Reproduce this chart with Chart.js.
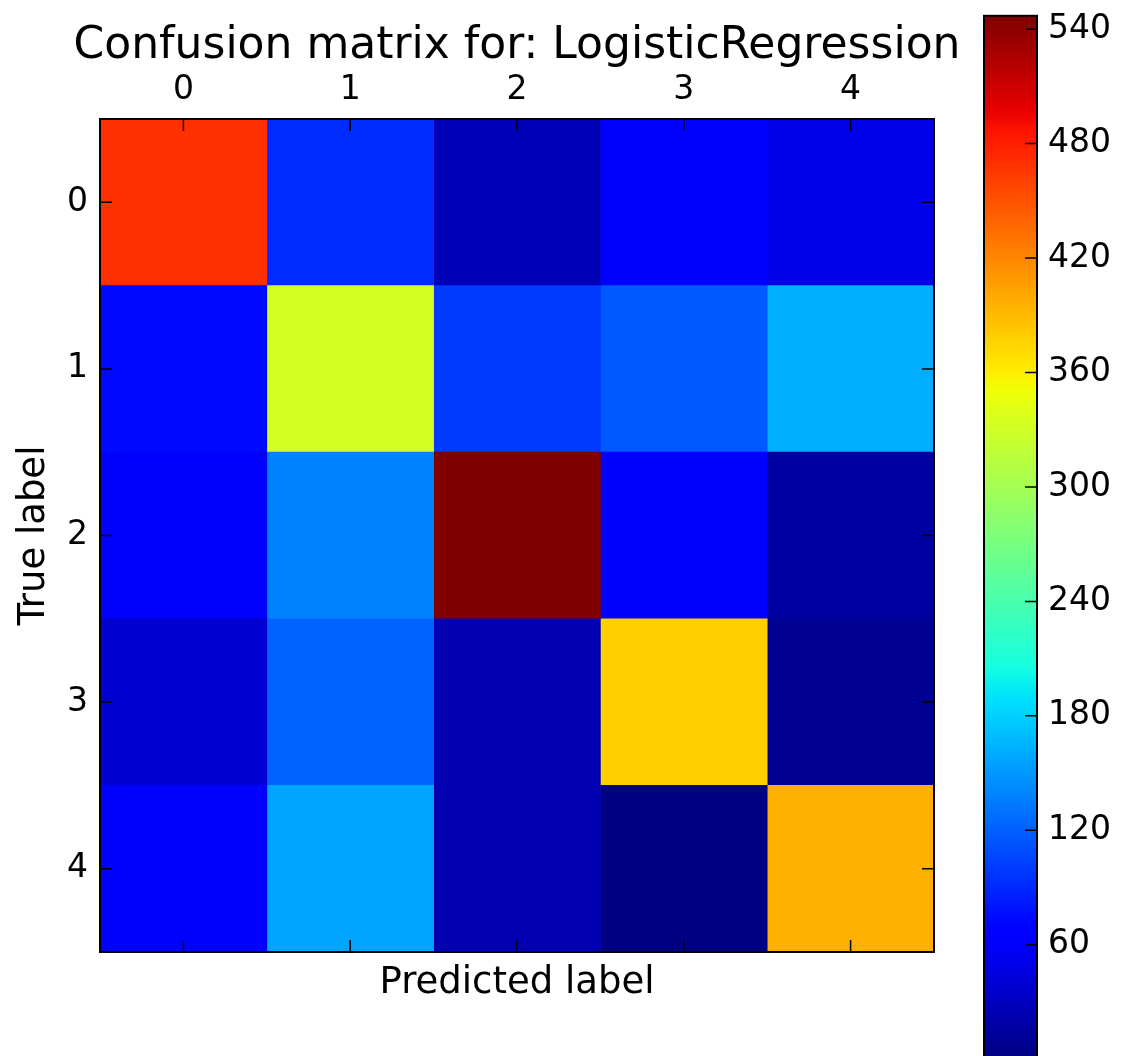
<!DOCTYPE html>
<html>
<head>
<meta charset="utf-8">
<title>Confusion matrix</title>
<script src="https://cdn.jsdelivr.net/npm/chart.js@4.4.1/dist/chart.umd.min.js"></script>
<style>
    html, body { margin: 0; padding: 0; background: #fff; overflow: hidden; }
    #wrap { position: relative; width: 1122px; height: 1056px; overflow: hidden; }
    #matriz { position: absolute; left: 0; top: 0; }
    #barra { position: absolute; left: 960px; top: -15px; z-index: 2; }
</style>
</head>
<body>
<div id="wrap">
    <canvas id="matriz" width="1034" height="1056"></canvas>
    <canvas id="barra" width="162" height="1105"></canvas>
</div>
<script>
// etiquetas y valores de la matriz (filas = true label, columnas = predicted label)
var predictedLabels = ["0", "1", "2", "3", "4"];
var trueLabels = ["0", "1", "2", "3", "4"];
var fila0 = [470, 92, 26, 66, 50];
var fila1 = [73, 332, 99, 116, 161];
var fila2 = [64, 138, 547, 63, 16];
var fila3 = [39, 121, 24, 378, 9];
var fila4 = [64, 157, 24, 1, 396];
var colorbarTicks = [60, 120, 180, 240, 300, 360, 420, 480, 540];
var vMin = 0;
var vMax = 547;

var filas = [fila0, fila1, fila2, fila3, fila4];
var FUENTE = "'DejaVu Sans', sans-serif";

// colormap jet de matplotlib
function tramo(x, puntos) {
    var i;
    for (i = 1; i < puntos.length; i++) {
        if (x <= puntos[i][0]) {
            var a = puntos[i - 1], b = puntos[i];
            return a[1] + (b[1] - a[1]) * (x - a[0]) / (b[0] - a[0]);
        }
    }
    return puntos[puntos.length - 1][1];
}

function jet(x) {
    x = Math.max(0, Math.min(1, x));
    var r = tramo(x, [[0, 0], [0.35, 0], [0.66, 1], [0.89, 1], [1, 0.5]]);
    var g = tramo(x, [[0, 0], [0.125, 0], [0.375, 1], [0.64, 1], [0.91, 0], [1, 0]]);
    var b = tramo(x, [[0, 0.5], [0.11, 1], [0.34, 1], [0.65, 0], [1, 0]]);
    return "rgb(" + Math.round(r * 255) + "," + Math.round(g * 255) + "," + Math.round(b * 255) + ")";
}

function colorDe(v) {
    return jet((v - vMin) / (vMax - vMin));
}

// marco negro y ticks hacia dentro como en matplotlib
var marcoPlugin = {
    id: "marco",
    afterDraw: function (chart) {
        var ctx = chart.ctx;
        var a = chart.chartArea;
        var x = chart.scales.x;
        var y = chart.scales.y;
        var largo = 12;
        ctx.save();
        ctx.strokeStyle = "#000";
        ctx.lineWidth = 1.5;
        ctx.beginPath();
        predictedLabels.forEach(function (l, i) {
            var px = x.getPixelForValue(i);
            ctx.moveTo(px, a.top);
            ctx.lineTo(px, a.top + largo);
            ctx.moveTo(px, a.bottom);
            ctx.lineTo(px, a.bottom - largo);
        });
        trueLabels.forEach(function (l, i) {
            var py = y.getPixelForValue(i);
            ctx.moveTo(a.left, py);
            ctx.lineTo(a.left + largo, py);
            ctx.moveTo(a.right, py);
            ctx.lineTo(a.right - largo, py);
        });
        ctx.stroke();
        ctx.lineWidth = 2;
        ctx.strokeRect(a.left, a.top, a.right - a.left, a.bottom - a.top);
        ctx.restore();
    }
};

function cargaMatriz() {
    "use strict";
    var datasets = predictedLabels.map(function (p, j) {
        return {
            label: p,
            data: filas.map(function () { return [j - 0.5, j + 0.5]; }),
            backgroundColor: filas.map(function (f) { return colorDe(f[j]); }),
            borderWidth: 0,
            barPercentage: 1,
            categoryPercentage: 1,
            grouped: false
        };
    });

    new Chart(document.getElementById("matriz").getContext("2d"), {
        type: "bar",
        data: { labels: trueLabels, datasets: datasets },
        options: {
            indexAxis: "y",
            responsive: false,
            animation: false,
            layout: { padding: 0 },
            plugins: {
                legend: { display: false },
                tooltip: { enabled: false },
                title: {
                    display: true,
                    text: "Confusion matrix for: LogisticRegression",
                    color: "#000",
                    font: { family: FUENTE, size: 44, weight: "normal" },
                    padding: { top: 20, bottom: 0 }
                }
            },
            scales: {
                x: {
                    type: "linear",
                    position: "top",
                    min: -0.5,
                    max: 4.5,
                    grid: { display: false, drawTicks: false },
                    border: { display: false },
                    afterBuildTicks: function (axis) {
                        axis.ticks = predictedLabels.map(function (l, i) { return { value: i }; });
                    },
                    afterFit: function (axis) { axis.height = 119 - 20 - 44 * 1.2; },
                    ticks: {
                        padding: 9,
                        color: "#000",
                        font: { family: FUENTE, size: 33 },
                        callback: function (v) { return predictedLabels[v]; }
                    }
                },
                x2: {
                    type: "linear",
                    position: "bottom",
                    min: -0.5,
                    max: 4.5,
                    grid: { display: false, drawTicks: false },
                    border: { display: false },
                    ticks: { display: false },
                    afterFit: function (axis) { axis.height = 104; },
                    title: {
                        display: true,
                        text: "Predicted label",
                        color: "#000",
                        font: { family: FUENTE, size: 37 },
                        padding: { top: 0, bottom: 50 }
                    }
                },
                y: {
                    type: "category",
                    grid: { display: false, drawTicks: false },
                    border: { display: false },
                    afterFit: function (axis) { axis.width = 100; },
                    ticks: {
                        padding: 12,
                        color: "#000",
                        font: { family: FUENTE, size: 33 }
                    },
                    title: {
                        display: true,
                        text: "True label",
                        color: "#000",
                        font: { family: FUENTE, size: 37 },
                        padding: { top: 12, bottom: 0 }
                    }
                },
                // eje vacío a la derecha para dejar el título centrado sobre la matriz
                y2: {
                    type: "linear",
                    position: "right",
                    grid: { display: false, drawTicks: false },
                    border: { display: false },
                    ticks: { display: false },
                    afterFit: function (axis) { axis.width = 100; }
                }
            }
        },
        plugins: [marcoPlugin]
    });
}

function cargaBarraColor() {
    "use strict";
    var barraPlugin = {
        id: "ticksBarra",
        afterDraw: function (chart) {
            var ctx = chart.ctx;
            var a = chart.chartArea;
            var y = chart.scales.y;
            ctx.save();
            ctx.strokeStyle = "#000";
            ctx.lineWidth = 1.5;
            ctx.beginPath();
            colorbarTicks.forEach(function (t) {
                var py = y.getPixelForValue(t);
                ctx.moveTo(a.right, py);
                ctx.lineTo(a.right - 12, py);
            });
            ctx.stroke();
            ctx.lineWidth = 2;
            ctx.strokeRect(a.left, a.top, a.right - a.left, a.bottom - a.top);
            ctx.restore();
        }
    };

    new Chart(document.getElementById("barra").getContext("2d"), {
        type: "bar",
        data: {
            labels: ["cb"],
            datasets: [{
                data: [[vMin, vMax]],
                borderWidth: 0,
                barPercentage: 1,
                categoryPercentage: 1,
                backgroundColor: function (c) {
                    var area = c.chart.chartArea;
                    if (!area) {
                        return "#000080";
                    }
                    var g = c.chart.ctx.createLinearGradient(0, area.bottom, 0, area.top);
                    var n;
                    for (n = 0; n <= 100; n++) {
                        g.addColorStop(n / 100, jet(n / 100));
                    }
                    return g;
                }
            }]
        },
        options: {
            responsive: false,
            animation: false,
            layout: { padding: { left: 24, right: 0, top: 30, bottom: 30.5 } },
            plugins: {
                legend: { display: false },
                tooltip: { enabled: false }
            },
            scales: {
                x: { display: false },
                y: {
                    type: "linear",
                    position: "right",
                    min: vMin,
                    max: vMax,
                    grid: { display: false, drawTicks: false },
                    border: { display: false },
                    afterBuildTicks: function (axis) {
                        axis.ticks = colorbarTicks.map(function (t) { return { value: t }; });
                    },
                    afterFit: function (axis) { axis.width = 85; },
                    ticks: {
                        padding: 11,
                        color: "#000",
                        font: { family: FUENTE, size: 33 }
                    }
                }
            }
        },
        plugins: [barraPlugin]
    });
}

window.onload = function () {
    "use strict";
    cargaMatriz();
    cargaBarraColor();
};
</script>
</body>
</html>
